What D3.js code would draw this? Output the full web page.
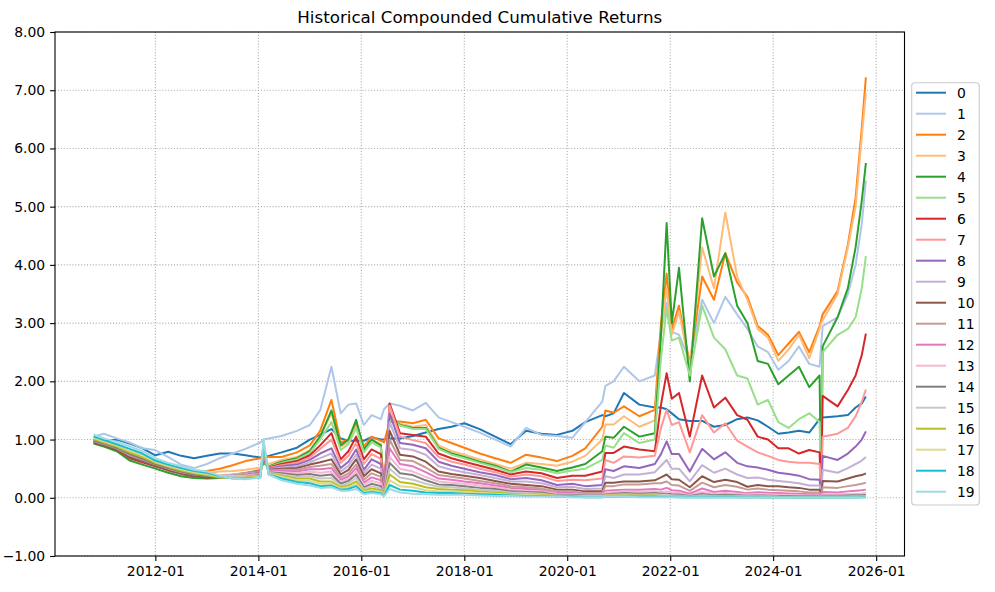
<!DOCTYPE html>
<html><head><meta charset="utf-8">
<script src="https://cdn.jsdelivr.net/npm/d3@7"></script>
<style>
body{margin:0;background:#fff;}
svg{display:block;font-family:"DejaVu Sans",sans-serif;}
</style></head><body>
<svg id="chart" width="995" height="592"></svg>
<script>
// x values: decimal years
const years = [
 2010.80,2011.00,2011.25,2011.50,2011.75,2012.00,2012.25,2012.50,2012.75,2013.00,2013.25,2013.50,2013.75,2014.04,
 2014.10,2014.20,2014.45,2014.75,2015.00,2015.20,2015.42,2015.60,2015.75,2015.90,2016.05,2016.20,2016.38,2016.44,2016.55,2016.75,
 2017.00,2017.25,2017.50,2017.75,2018.00,2018.30,2018.60,2018.90,2019.20,2019.50,2019.80,2020.10,2020.35,2020.68,2020.74,2020.90,
 2021.10,2021.40,2021.70,2021.82,2021.93,2022.03,2022.17,2022.38,2022.62,2022.85,2023.07,2023.30,2023.50,2023.70,2023.90,
 2024.10,2024.30,2024.50,2024.70,2024.90,2024.93,2024.96,2025.25,2025.45,2025.60,2025.72,2025.80
];
const seriesNames = ["0","1","2","3","4","5","6","7","8","9","10","11","12","13","14","15","16","17","18","19"];
const s0 = [1.00,0.97,1.00,0.93,0.85,0.73,0.79,0.72,0.68,0.72,0.76,0.76,0.73,0.69,
 0.70,0.72,0.78,0.86,1.00,1.08,1.18,1.02,0.98,0.98,0.98,1.04,1.00,1.00,1.02,1.02,
 1.06,1.12,1.18,1.22,1.28,1.18,1.05,0.92,1.15,1.10,1.08,1.15,1.30,1.42,1.40,1.45,
 1.80,1.60,1.55,1.55,1.52,1.45,1.35,1.32,1.32,1.22,1.25,1.35,1.38,1.33,1.22,
 1.10,1.12,1.15,1.12,1.35,1.38,1.38,1.40,1.42,1.55,1.62,1.74];
const s1 = [1.05,1.10,1.02,0.95,0.85,0.82,0.70,0.57,0.51,0.58,0.68,0.76,0.84,0.95,
 1.00,1.02,1.06,1.15,1.25,1.50,2.25,1.45,1.60,1.62,1.25,1.42,1.35,1.52,1.62,1.58,
 1.50,1.63,1.38,1.30,1.22,1.12,1.00,0.88,1.20,1.08,1.06,1.03,1.30,1.65,1.92,2.00,
 2.25,2.00,2.10,2.85,3.35,2.85,2.80,2.35,3.40,3.00,3.45,3.15,2.90,2.60,2.50,
 2.20,2.35,2.60,2.30,2.25,2.60,2.95,3.10,3.50,4.00,4.70,5.45];
const s2 = [0.98,0.95,0.88,0.72,0.70,0.55,0.50,0.46,0.42,0.46,0.50,0.56,0.63,0.68,
 0.70,0.70,0.70,0.78,0.90,1.15,1.68,0.95,1.00,1.28,0.88,1.05,0.98,0.95,1.30,1.31,
 1.28,1.34,1.02,0.94,0.86,0.76,0.68,0.60,0.74,0.69,0.63,0.72,0.85,1.22,1.50,1.46,
 1.57,1.40,1.51,3.00,3.85,2.90,3.30,2.30,3.80,3.40,4.20,3.70,3.45,2.95,2.80,
 2.45,2.65,2.85,2.50,2.95,3.05,3.15,3.55,4.35,5.15,6.35,7.22];
const s3 = [0.97,0.92,0.86,0.74,0.66,0.60,0.52,0.47,0.43,0.42,0.45,0.46,0.48,0.52,
 0.62,0.58,0.65,0.70,0.82,1.05,1.45,0.88,0.95,1.22,0.85,1.00,0.92,0.15,1.40,1.27,
 1.22,1.25,0.90,0.80,0.74,0.66,0.58,0.50,0.60,0.58,0.55,0.62,0.72,1.00,1.26,1.26,
 1.40,1.22,1.33,2.80,3.60,2.80,3.20,2.25,4.30,3.60,4.90,3.80,3.40,2.90,2.75,
 2.35,2.55,2.80,2.40,2.90,3.00,3.05,3.50,4.30,5.00,6.20,6.95];
const s4 = [0.93,0.88,0.80,0.64,0.57,0.50,0.43,0.37,0.34,0.33,0.34,0.37,0.41,0.48,
 0.60,0.54,0.62,0.68,0.80,1.05,1.50,0.90,1.00,1.34,0.83,1.00,0.90,0.14,1.42,1.25,
 1.20,1.20,0.86,0.76,0.70,0.62,0.55,0.45,0.57,0.52,0.46,0.52,0.58,0.80,1.05,1.03,
 1.22,1.05,1.11,2.80,4.72,3.00,3.95,2.00,4.80,3.80,4.20,3.30,3.00,2.35,2.30,
 1.95,2.10,2.25,1.90,2.10,0.10,2.60,3.10,3.60,4.30,5.10,5.75];
const s5 = [0.96,0.91,0.84,0.70,0.62,0.55,0.48,0.42,0.38,0.36,0.38,0.40,0.43,0.48,
 0.62,0.53,0.60,0.66,0.77,1.00,1.30,0.82,0.92,1.20,0.78,0.95,0.86,0.13,1.40,1.24,
 1.18,1.18,0.84,0.74,0.68,0.60,0.53,0.44,0.51,0.48,0.42,0.47,0.50,0.65,0.90,0.86,
 1.11,0.94,1.00,2.40,3.25,2.70,2.75,2.10,3.30,2.75,2.55,2.10,2.05,1.60,1.68,
 1.30,1.20,1.35,1.45,1.30,0.08,2.50,2.80,2.90,3.10,3.60,4.15];
const s6 = [0.95,0.90,0.83,0.68,0.61,0.54,0.47,0.41,0.37,0.35,0.36,0.39,0.42,0.47,
 0.64,0.52,0.58,0.63,0.73,0.90,1.11,0.66,0.80,1.05,0.66,0.83,0.75,0.12,1.62,1.11,
 1.08,1.05,0.76,0.68,0.62,0.55,0.48,0.40,0.45,0.42,0.34,0.38,0.38,0.45,0.77,0.77,
 0.88,0.83,0.80,1.60,2.14,1.70,1.80,1.05,2.10,1.55,1.72,1.42,1.34,1.05,1.00,
 0.85,0.85,0.76,0.82,0.78,0.05,1.75,1.57,1.85,2.10,2.45,2.82];
const s7 = [0.97,0.92,0.85,0.72,0.64,0.56,0.49,0.43,0.39,0.37,0.38,0.40,0.42,0.46,
 0.66,0.51,0.56,0.60,0.69,0.84,1.00,0.60,0.72,0.94,0.58,0.75,0.67,0.11,1.58,1.05,
 0.99,0.94,0.70,0.62,0.57,0.50,0.44,0.36,0.40,0.37,0.29,0.31,0.30,0.33,0.65,0.60,
 0.71,0.69,0.72,1.20,1.51,1.25,1.30,0.78,1.42,1.12,1.28,0.98,0.88,0.78,0.72,
 0.65,0.62,0.60,0.60,0.58,0.04,1.05,1.10,1.20,1.40,1.65,1.86];
const s8 = [0.96,0.91,0.84,0.70,0.63,0.55,0.48,0.42,0.38,0.36,0.36,0.38,0.41,0.45,
 0.68,0.50,0.54,0.57,0.65,0.76,0.85,0.51,0.62,0.83,0.48,0.66,0.58,0.10,1.45,0.94,
 0.91,0.85,0.62,0.55,0.50,0.44,0.39,0.32,0.34,0.30,0.22,0.24,0.20,0.22,0.49,0.46,
 0.54,0.51,0.58,0.75,0.97,0.75,0.75,0.45,0.84,0.66,0.78,0.60,0.54,0.52,0.48,
 0.43,0.41,0.38,0.32,0.31,0.03,0.72,0.65,0.76,0.88,1.00,1.14];
const s9 = [0.98,0.93,0.86,0.74,0.66,0.57,0.50,0.44,0.40,0.38,0.38,0.39,0.41,0.44,
 0.70,0.49,0.52,0.54,0.61,0.68,0.76,0.45,0.55,0.74,0.42,0.57,0.50,0.09,1.30,0.85,
 0.82,0.74,0.54,0.48,0.44,0.39,0.34,0.28,0.28,0.25,0.18,0.19,0.15,0.16,0.37,0.34,
 0.40,0.40,0.44,0.55,0.65,0.50,0.50,0.28,0.56,0.43,0.50,0.40,0.34,0.35,0.31,
 0.29,0.27,0.25,0.21,0.21,0.02,0.48,0.43,0.51,0.58,0.64,0.70];
const s10 = [0.95,0.90,0.83,0.70,0.63,0.55,0.48,0.42,0.38,0.36,0.35,0.37,0.39,0.43,
 0.72,0.48,0.50,0.51,0.57,0.61,0.66,0.40,0.48,0.66,0.37,0.49,0.42,0.08,1.15,0.74,
 0.71,0.62,0.45,0.41,0.38,0.34,0.29,0.24,0.22,0.20,0.14,0.14,0.11,0.11,0.26,0.26,
 0.28,0.28,0.30,0.35,0.40,0.32,0.31,0.18,0.37,0.27,0.31,0.27,0.19,0.22,0.20,
 0.20,0.18,0.17,0.14,0.14,0.015,0.29,0.28,0.33,0.37,0.39,0.42];
const s11 = [0.97,0.92,0.85,0.73,0.65,0.57,0.50,0.44,0.40,0.38,0.37,0.38,0.39,0.42,
 0.75,0.47,0.48,0.48,0.53,0.55,0.58,0.35,0.42,0.57,0.31,0.42,0.36,0.07,1.00,0.65,
 0.63,0.52,0.39,0.36,0.33,0.29,0.25,0.20,0.18,0.16,0.11,0.11,0.08,0.08,0.20,0.20,
 0.23,0.23,0.25,0.25,0.28,0.22,0.21,0.12,0.26,0.18,0.22,0.19,0.14,0.16,0.14,
 0.13,0.12,0.11,0.09,0.09,0.01,0.18,0.17,0.20,0.22,0.24,0.26];
const s12 = [0.99,0.94,0.87,0.76,0.68,0.59,0.52,0.46,0.41,0.39,0.37,0.37,0.38,0.41,
 0.78,0.46,0.46,0.45,0.49,0.49,0.51,0.31,0.37,0.51,0.26,0.35,0.30,0.06,0.85,0.58,
 0.54,0.44,0.33,0.31,0.28,0.25,0.21,0.17,0.15,0.13,0.08,0.08,0.06,0.06,0.12,0.13,
 0.14,0.14,0.15,0.14,0.17,0.13,0.12,0.07,0.16,0.10,0.12,0.10,0.08,0.095,0.085,
 0.08,0.075,0.07,0.06,0.06,0.006,0.10,0.09,0.11,0.12,0.13,0.14];
const s13 = [1.00,0.95,0.88,0.78,0.70,0.60,0.53,0.47,0.42,0.40,0.38,0.37,0.38,0.40,
 0.80,0.45,0.44,0.42,0.45,0.43,0.45,0.27,0.33,0.45,0.22,0.29,0.25,0.06,0.70,0.50,
 0.45,0.36,0.28,0.26,0.24,0.21,0.18,0.14,0.12,0.11,0.07,0.06,0.05,0.05,0.09,0.10,
 0.11,0.10,0.11,0.10,0.11,0.09,0.08,0.045,0.10,0.07,0.08,0.07,0.055,0.06,0.055,
 0.05,0.048,0.045,0.04,0.038,0.004,0.06,0.055,0.065,0.07,0.075,0.08];
const s14 = [0.98,0.93,0.86,0.75,0.67,0.58,0.51,0.45,0.40,0.38,0.35,0.35,0.36,0.39,
 0.83,0.44,0.42,0.39,0.41,0.38,0.40,0.24,0.29,0.40,0.18,0.24,0.20,0.05,0.60,0.42,
 0.39,0.30,0.23,0.22,0.20,0.17,0.15,0.11,0.10,0.09,0.05,0.05,0.04,0.04,0.06,0.07,
 0.08,0.07,0.08,0.07,0.07,0.06,0.055,0.03,0.065,0.045,0.05,0.045,0.035,0.04,0.035,
 0.032,0.03,0.028,0.025,0.024,0.003,0.035,0.033,0.038,0.042,0.045,0.048];
const s15 = [1.02,0.96,0.89,0.79,0.71,0.61,0.54,0.48,0.43,0.40,0.37,0.36,0.36,0.38,
 0.86,0.43,0.40,0.36,0.37,0.33,0.34,0.21,0.25,0.34,0.15,0.20,0.16,0.05,0.50,0.35,
 0.31,0.24,0.19,0.18,0.16,0.14,0.12,0.09,0.08,0.07,0.04,0.04,0.03,0.03,0.05,0.05,
 0.06,0.05,0.06,0.05,0.05,0.04,0.04,0.02,0.045,0.03,0.035,0.03,0.025,0.027,0.025,
 0.02,0.019,0.018,0.016,0.015,0.002,0.022,0.02,0.023,0.026,0.028,0.03];
const s16 = [1.01,0.95,0.88,0.78,0.70,0.60,0.53,0.47,0.42,0.39,0.35,0.34,0.35,0.37,
 0.89,0.42,0.38,0.33,0.33,0.28,0.28,0.18,0.21,0.28,0.12,0.16,0.13,0.04,0.40,0.27,
 0.24,0.18,0.15,0.14,0.13,0.11,0.09,0.07,0.06,0.05,0.03,0.03,0.02,0.02,0.04,0.04,
 0.04,0.04,0.04,0.03,0.03,0.03,0.025,0.015,0.03,0.02,0.025,0.02,0.015,0.017,0.015,
 0.013,0.012,0.011,0.01,0.01,0.001,0.013,0.012,0.014,0.016,0.017,0.018];
const s17 = [1.03,0.97,0.90,0.81,0.73,0.62,0.55,0.49,0.44,0.41,0.36,0.34,0.34,0.36,
 0.92,0.41,0.36,0.30,0.29,0.24,0.24,0.16,0.18,0.24,0.10,0.13,0.10,0.04,0.30,0.20,
 0.18,0.13,0.11,0.11,0.10,0.08,0.07,0.05,0.05,0.04,0.03,0.02,0.02,0.02,0.03,0.03,
 0.03,0.03,0.03,0.02,0.02,0.02,0.015,0.01,0.02,0.013,0.015,0.013,0.01,0.011,0.01,
 0.009,0.008,0.007,0.007,0.006,0.001,0.008,0.008,0.009,0.01,0.011,0.012];
const s18 = [1.05,0.99,0.92,0.84,0.76,0.64,0.57,0.51,0.46,0.43,0.37,0.33,0.33,0.35,
 0.95,0.40,0.33,0.27,0.25,0.20,0.21,0.14,0.15,0.20,0.08,0.10,0.08,0.03,0.22,0.14,
 0.12,0.09,0.08,0.08,0.07,0.06,0.05,0.04,0.03,0.03,0.02,0.02,0.01,0.01,0.02,0.02,
 0.02,0.02,0.02,0.015,0.015,0.012,0.01,0.007,0.012,0.008,0.01,0.008,0.006,0.007,0.006,
 0.006,0.005,0.005,0.004,0.004,0.0005,0.005,0.005,0.006,0.006,0.007,0.007];
const s19 = [1.09,1.02,0.96,0.88,0.80,0.68,0.60,0.54,0.48,0.45,0.38,0.33,0.32,0.35,
 1.00,0.40,0.30,0.24,0.21,0.17,0.18,0.12,0.12,0.15,0.06,0.08,0.06,0.03,0.15,0.09,
 0.07,0.06,0.05,0.05,0.05,0.04,0.03,0.03,0.02,0.02,0.02,0.01,0.01,0.01,0.02,0.02,
 0.02,0.01,0.01,0.01,0.01,0.008,0.007,0.005,0.008,0.005,0.006,0.005,0.004,0.004,0.004,
 0.004,0.003,0.003,0.003,0.003,0.0003,0.003,0.003,0.003,0.004,0.004,0.004];
const yTicks = [-1,0,1,2,3,4,5,6,7,8];
const titleText = "Historical Compounded Cumulative Returns";
const colors = ["#1f77b4","#aec7e8","#ff7f0e","#ffbb78","#2ca02c","#98df8a","#d62728","#ff9896",
 "#9467bd","#c5b0d5","#8c564b","#c49c94","#e377c2","#f7b6d2","#7f7f7f","#c7c7c7",
 "#bcbd22","#dbdb8d","#17becf","#9edae5"];

const allSeries = [s0,s1,s2,s3,s4,s5,s6,s7,s8,s9,s10,s11,s12,s13,s14,s15,s16,s17,s18,s19];

const plot = {left:55, right:904.5, top:32, bottom:556};
const svg = d3.select("#chart");
const toDate = v => { const yr = Math.floor(v); const a = Date.UTC(yr,0,1), b = Date.UTC(yr+1,0,1); return new Date(a + (v-yr)*(b-a)); };
const dates = years.map(toDate);
const [d0, d1] = d3.extent(dates);
const padT = (d1 - d0) * 0.05;
const x = d3.scaleUtc().domain([new Date(+d0 - padT), new Date(+d1 + padT)]).range([plot.left, plot.right]);
const y = d3.scaleLinear().domain([d3.min(yTicks), d3.max(yTicks)]).range([plot.bottom, plot.top]);
const xTicks = d3.utcYear.every(2).range(x.domain()[0], x.domain()[1]);

// grid
const grid = svg.append("g").attr("stroke","#b0b0b0").attr("stroke-width",1.1).attr("stroke-dasharray","1.1,1.8");
grid.selectAll("line.gx").data(xTicks).join("line")
  .attr("x1",d=>x(d)).attr("x2",d=>x(d)).attr("y1",plot.top).attr("y2",plot.bottom);
grid.selectAll("line.gy").data(yTicks).join("line")
  .attr("x1",plot.left).attr("x2",plot.right).attr("y1",d=>y(d)).attr("y2",d=>y(d));

// lines
const line = d3.line().x((d,i)=>x(dates[i])).y(d=>y(d));
svg.append("g").selectAll("path").data(allSeries).join("path")
  .attr("d", line).attr("fill","none")
  .attr("stroke",(d,i)=>colors[i]).attr("stroke-width",2.0)
  .attr("stroke-linejoin","round");

// frame
svg.append("rect").attr("x",plot.left).attr("y",plot.top)
  .attr("width",plot.right-plot.left).attr("height",plot.bottom-plot.top)
  .attr("fill","none").attr("stroke","#000").attr("stroke-width",1.1);

// axes
const xAxis = d3.axisBottom(x).tickValues(xTicks).tickFormat(d3.utcFormat("%Y-%m")).tickSize(4.9).tickPadding(4.9);
const gx = svg.append("g").attr("transform",`translate(0,${plot.bottom})`).call(xAxis);
const yAxis = d3.axisLeft(y).tickValues(yTicks).tickFormat(d3.format(".2f")).tickSize(4.9).tickPadding(4.9);
const gy = svg.append("g").attr("transform",`translate(${plot.left},0)`).call(yAxis);
[gx,gy].forEach(g=>{
  g.select(".domain").remove();
  g.selectAll(".tick line").attr("stroke","#000").attr("stroke-width",1.1);
  g.selectAll(".tick text").attr("fill","#000").style("font-size","13.9px").style("font-family","DejaVu Sans, sans-serif");
});

// title
svg.append("text").attr("x",(plot.left+plot.right)/2).attr("y",23)
  .attr("text-anchor","middle").style("font-size","16.7px").attr("fill","#000").text(titleText);

// legend
const lg = svg.append("g");
lg.append("rect").attr("x",911.7).attr("y",82.7).attr("width",67.6).attr("height",422.3)
  .attr("rx",3).attr("fill","#fff").attr("fill-opacity",0.8).attr("stroke","#cccccc").attr("stroke-width",1.1);
const items = lg.selectAll("g.item").data(seriesNames).join("g")
  .attr("transform",(d,i)=>`translate(0,${92.7 + i*21})`);
items.append("line").attr("x1",916).attr("x2",946).attr("y1",0).attr("y2",0)
  .attr("stroke",(d,i)=>colors[i]).attr("stroke-width",2.0);
items.append("text").attr("x",957).attr("y",0).attr("dy","0.35em")
  .style("font-size","13.9px").attr("fill","#000").text(d=>d);
</script>
</body></html>
